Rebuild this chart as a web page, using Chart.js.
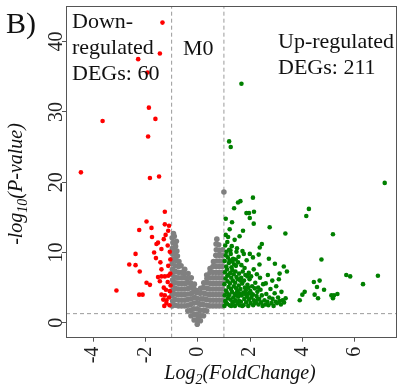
<!DOCTYPE html>
<html><head><meta charset="utf-8">
<script src="https://cdn.jsdelivr.net/npm/chart.js@4"></script>
<style>html,body{margin:0;padding:0;background:#fff;}canvas{display:block;}</style>
</head><body>
<canvas id="c" width="401" height="390"></canvas>
<script>
// ---- data ----
const xTicks = [-4, -2, 0, 2, 4, 6];
const yTicks = [0, 10, 20, 30, 40];
const xRange = [-5.04, 7.62];
const yRange = [-2.12, 45.06];
const fcCut = 1;
const pCut = 1.3;

const downPoints = [
  [-1.35,42.7],[-1.45,38.3],[-2.28,37.5],[-1.92,35.6],[-1.87,30.6],[-1.62,29.0],[-3.64,28.7],[-1.90,26.5],
  [-4.47,21.4],[-1.83,20.6],[-1.48,20.8],[-1.26,15.8],[-1.96,14.4],[-1.26,14.0],[-1.10,13.8],[-2.24,13.2],
  [-1.77,13.5],[-1.13,13.1],[-1.30,11.9],[-1.58,11.2],[-1.52,11.4],[-1.39,10.5],[-2.38,9.8],[-1.67,10.0],
  [-1.07,10.1],[-2.62,8.3],[-2.38,8.2],[-2.22,7.3],[-1.43,8.6],[-1.13,8.1],[-1.39,7.6],[-1.52,6.5],
  [-1.39,6.6],[-1.26,6.6],[-1.13,6.7],[-1.96,5.7],[-1.83,5.4],[-3.11,4.6],[-2.24,4.0],[-2.11,4.0],
  [-1.39,4.0],[-1.26,3.9],[-1.04,5.3],[-1.22,4.7],[-1.32,3.3],[-1.20,3.2],[-1.20,2.8],[-1.07,4.5],
  [-1.05,7.0],[-1.23,12.5],[-1.05,9.0],[-1.15,5.8],[-1.30,5.0],[-1.10,3.6],[-1.60,9.2],[-1.15,11.0],
  [-1.75,12.2],[-1.45,5.9],[-1.08,2.5],[-1.28,2.4]
];

const upPoints = [
  [1.02,2.4],[1.05,3.1],[1.03,3.9],[1.08,4.6],[1.02,5.5],[1.06,6.3],[1.04,7.2],[1.09,8.0],[1.03,8.8],[1.07,9.6],
  [1.05,11.0],[1.12,2.7],[1.15,3.5],[1.11,4.3],[1.18,5.1],[1.14,5.9],[1.17,6.8],[1.12,7.6],[1.19,8.5],[1.15,9.3],
  [1.13,11.5],[1.22,2.5],[1.25,3.3],[1.21,4.0],[1.27,4.8],[1.23,5.6],[1.28,6.4],[1.24,7.1],[1.29,7.9],[1.22,8.9],
  [1.26,9.8],[1.30,10.9],[1.33,2.9],[1.36,3.6],[1.31,4.4],[1.38,5.2],[1.34,6.0],[1.37,6.9],[1.32,7.5],[1.39,8.3],
  [1.35,9.1],[1.42,2.4],[1.45,3.2],[1.41,4.1],[1.47,4.9],[1.43,5.7],[1.48,6.5],[1.44,7.3],[1.46,8.1],[1.41,11.8],
  [1.52,2.8],[1.55,3.7],[1.51,4.5],[1.57,5.3],[1.53,6.2],[1.58,7.0],[1.54,8.6],[1.56,9.4],[1.60,2.5],[1.59,4.2],
  [1.50,10.6],
  [1.65,3.0],[1.68,3.9],[1.63,4.8],[1.70,5.6],[1.66,6.4],[1.72,7.3],[1.67,8.2],[1.75,2.5],[1.78,3.4],[1.74,4.3],
  [1.80,5.0],[1.77,6.0],[1.82,6.8],[1.79,7.8],[1.85,2.9],[1.88,3.7],[1.84,4.6],[1.90,5.4],[1.87,8.9],[1.93,2.4],
  [1.96,3.3],[1.92,4.1],[1.98,6.2],[1.95,7.1],[2.02,2.8],[2.05,3.6],[2.01,4.5],[2.08,5.2],[2.04,6.6],[2.12,2.5],
  [2.15,3.2],[2.11,4.0],[2.18,4.9],[2.14,7.6],[2.22,2.9],[2.25,3.8],[2.20,5.7],[2.28,4.4],[2.32,2.6],[2.35,3.4],
  [2.31,5.0],[2.38,6.4],[2.42,2.9],[2.45,3.9],[2.40,4.7],[2.48,2.4],[2.50,5.5],[2.36,8.3],[1.99,9.8],[2.26,6.9],
  [2.55,3.2],[2.58,2.6],[2.62,4.1],[2.66,3.0],[2.70,2.5],[2.74,3.6],[2.78,4.8],[2.82,2.8],[2.86,3.4],[2.90,2.4],
  [2.94,4.2],[2.98,3.0],[3.03,2.8],[3.07,3.6],[3.13,3.1],[3.18,2.6],[3.24,3.2],[3.30,2.9],[3.36,3.5],[2.60,5.6],
  [2.85,6.0],[3.00,5.2],[3.20,4.4],[2.68,6.8],[3.41,7.3],[3.13,7.0],[3.29,8.0],[2.72,9.1],[2.95,8.4],[3.10,6.2],
  [1.20,25.8],[1.26,25.0],[7.15,19.9],[2.11,17.8],[1.63,17.3],[1.54,17.1],[1.39,16.3],[1.86,15.6],[1.96,15.6],[2.15,15.8],
  [1.99,14.9],[4.25,16.2],[4.15,15.2],[1.07,14.8],[1.31,14.3],[2.14,14.1],[2.75,13.6],[1.22,13.3],[1.73,13.1],[1.07,12.5],
  [1.16,12.2],[1.60,12.3],[3.35,12.7],[5.17,12.6],[2.45,11.2],[2.37,10.7],[2.33,9.7],[1.48,10.1],[1.71,10.2],[1.76,9.8],
  [1.10,10.1],[1.20,10.4],[2.11,9.3],[4.73,9.0],[5.68,6.8],[5.83,6.6],[6.89,6.7],[6.32,5.5],[4.44,5.8],[4.66,6.0],
  [4.56,5.1],[4.83,4.7],[4.09,4.4],[4.00,4.0],[4.47,4.0],[4.60,3.5],[5.11,3.9],[5.21,3.9],[5.34,4.1],[3.90,3.2],
  [5.17,3.5],[1.67,34.0],
  [1.08,2.9],[1.18,3.9],[1.28,2.4],[1.38,3.0],[1.48,3.9],[1.58,3.1],[1.70,2.4],[1.82,4.1],[1.94,5.0],[2.06,4.1],
  [2.18,2.8],[2.30,3.3],[1.13,6.7],[1.33,8.7],[1.25,10.3],[1.45,9.0],[1.62,6.0],[1.90,6.6]
];

const nsPoints = [
  [-0.98,2.4],[-0.96,3.1],[-0.99,3.9],[-0.97,4.6],[-0.98,5.4],[-0.96,6.1],[-0.99,6.9],[-0.97,7.6],[-0.98,8.4],
  [-0.96,9.1],[-0.99,9.9],[-0.97,10.6],[-0.95,11.4],[-0.98,12.1],[-0.93,12.7],
  [-0.90,12.3],[-0.82,11.6],[-0.88,10.4],[-0.78,9.5],[-0.90,9.0],
  [-0.86,2.5],[-0.87,3.3],[-0.85,4.1],[-0.86,4.9],[-0.84,5.7],[-0.87,6.5],[-0.85,7.3],[-0.86,8.1],[-0.84,8.9],
  [-0.86,9.7],[-0.85,10.9],[-0.80,10.2],
  [-0.74,2.4],[-0.73,3.2],[-0.75,4.0],[-0.74,4.8],[-0.72,5.6],[-0.75,6.4],[-0.73,7.2],[-0.74,8.0],[-0.72,8.7],
  [-0.62,2.4],[-0.61,3.2],[-0.63,4.0],[-0.62,4.8],[-0.60,5.6],[-0.63,6.4],[-0.61,7.2],[-0.64,8.1],
  [-0.50,2.4],[-0.49,3.2],[-0.51,4.0],[-0.50,4.8],[-0.48,5.6],[-0.51,6.4],[-0.52,7.0],[-0.50,7.6],
  [-0.38,1.7],[-0.37,2.5],[-0.39,3.3],[-0.38,4.1],[-0.36,4.9],[-0.39,5.7],[-0.40,6.3],[-0.37,7.0],
  [-0.26,1.0],[-0.25,1.8],[-0.27,2.6],[-0.26,3.4],[-0.24,4.2],[-0.27,5.0],[-0.28,5.7],[-0.25,6.4],
  [-0.14,0.4],[-0.13,1.2],[-0.15,2.0],[-0.14,2.8],[-0.12,3.6],[-0.15,4.4],[-0.16,5.0],[-0.13,5.5],
  [-0.02,-0.2],[-0.01,0.5],[-0.03,1.2],[-0.02,2.0],[0.00,2.8],[-0.03,3.5],[-0.04,4.3],[-0.05,4.6],
  [0.10,0.3],[0.11,1.0],[0.09,1.8],[0.10,2.6],[0.12,3.4],[0.09,4.2],[0.11,4.9],
  [0.22,1.0],[0.23,1.8],[0.21,2.6],[0.22,3.4],[0.24,4.2],[0.21,5.0],[0.23,5.7],
  [0.34,1.7],[0.35,2.5],[0.33,3.3],[0.34,4.1],[0.36,4.9],[0.33,5.7],[0.35,6.3],[0.34,6.8],
  [0.46,2.4],[0.47,3.2],[0.45,4.0],[0.46,4.8],[0.48,5.6],[0.45,6.4],[0.47,7.2],[0.47,7.7],
  [0.58,2.4],[0.59,3.2],[0.57,4.0],[0.58,4.8],[0.60,5.6],[0.57,6.4],[0.59,7.2],[0.58,8.0],[0.60,8.7],
  [0.70,2.4],[0.71,3.2],[0.69,4.0],[0.70,4.8],[0.72,5.6],[0.69,6.4],[0.71,7.2],[0.70,8.0],[0.72,8.8],
  [0.69,9.6],[0.71,10.4],[0.70,11.2],[0.73,11.9],
  [0.82,2.4],[0.83,3.2],[0.81,4.0],[0.82,4.8],[0.84,5.6],[0.81,6.4],[0.83,7.2],[0.82,8.0],[0.84,8.8],
  [0.81,9.6],[0.83,10.3],[0.80,11.1],
  [0.94,2.4],[0.95,3.2],[0.93,4.0],[0.94,4.8],[0.96,5.6],[0.93,6.4],[0.95,7.2],[0.94,8.0],[0.96,8.8],
  [0.93,9.6],[0.95,10.4],
  [1.00,18.6]
];

const panelLabel = 'B)';
const groupLabel = 'M0';
const downLabel = ['Down-', 'regulated', 'DEGs: 60'];
const upLabel = ['Up-regulated', 'DEGs: 211'];
const xTitle = [['Log', false], ['2', true], ['(FoldChange)', false]];
const yTitle = [['-log', false], ['10', true], ['(P-value)', false]];

// ---- drawing ----
const SERIF = '"Liberation Serif", "Times New Roman", serif';
const toXY = arr => arr.map(([x, y]) => ({x, y}));
const AXIS = '#555';

function drawRich(ctx, parts, size, subSize, subShift) {
  let w = 0;
  parts.forEach(([t, sub]) => {
    ctx.font = 'italic ' + (sub ? subSize : size) + 'px ' + SERIF;
    w += ctx.measureText(t).width;
  });
  let x = -w / 2;
  parts.forEach(([t, sub]) => {
    ctx.font = 'italic ' + (sub ? subSize : size) + 'px ' + SERIF;
    ctx.fillText(t, x, sub ? subShift : 0);
    x += ctx.measureText(t).width;
  });
}

const decor = {
  id: 'decor',
  afterDraw(chart) {
    const ctx = chart.ctx, a = chart.chartArea;
    ctx.save();
    ctx.strokeStyle = AXIS;
    ctx.lineWidth = 1;
    ctx.strokeRect(Math.round(a.left) + 0.5, Math.round(a.top) + 0.5,
                   Math.round(a.right - a.left) - 1, Math.round(a.bottom - a.top) - 1);
    ctx.fillStyle = '#111';
    ctx.textAlign = 'left';
    ctx.textBaseline = 'alphabetic';
    ctx.font = '30px ' + SERIF;
    ctx.fillText(panelLabel, 6, 33);
    ctx.font = '22px ' + SERIF;
    downLabel.forEach((t, i) => ctx.fillText(t, a.left + 6, 28 + i * 26));
    ctx.fillText(groupLabel, 183, 55);
    upLabel.forEach((t, i) => ctx.fillText(t, 278, 48 + i * 26));
    // x title
    ctx.save();
    ctx.translate(240, 379);
    drawRich(ctx, xTitle, 20, 14, 5);
    ctx.restore();
    // y title
    ctx.save();
    ctx.translate(22, 184);
    ctx.rotate(-Math.PI / 2);
    drawRich(ctx, yTitle, 20, 14, 5);
    ctx.restore();
    ctx.restore();
  }
};

const tickGrid = {display: true, drawOnChartArea: false, drawTicks: true, tickLength: 4, tickColor: AXIS, color: AXIS};
const dashed = {borderColor: '#9a9a9a', borderWidth: 1, borderDash: [4, 3], pointRadius: 0, showLine: true, order: 3, fill: false};

new Chart(document.getElementById('c'), {
  type: 'scatter',
  data: {
    datasets: [
      {label: 'Down', data: toXY(downPoints), backgroundColor: '#ff0000', pointRadius: 2.3, borderWidth: 0, order: 1},
      {label: 'Up', data: toXY(upPoints), backgroundColor: '#008000', pointRadius: 2.3, borderWidth: 0, order: 1},
      {label: 'NS', data: toXY(nsPoints), backgroundColor: '#808080', pointRadius: 2.8, borderWidth: 0, order: 2},
      Object.assign({label: 'fcLow', data: [{x: -fcCut, y: yRange[0]}, {x: -fcCut, y: yRange[1]}]}, dashed),
      Object.assign({label: 'fcHigh', data: [{x: fcCut, y: yRange[0]}, {x: fcCut, y: yRange[1]}]}, dashed),
      Object.assign({label: 'p', data: [{x: xRange[0], y: pCut}, {x: xRange[1], y: pCut}]}, dashed)
    ]
  },
  options: {
    responsive: false,
    animation: false,
    devicePixelRatio: 1,
    events: [],
    layout: {padding: {top: 6, right: 3.5, left: 0, bottom: 0}},
    plugins: {legend: {display: false}, tooltip: {enabled: false}},
    scales: {
      x: {
        type: 'linear', position: 'bottom', min: xRange[0], max: xRange[1],
        grid: tickGrid, border: {display: false},
        afterBuildTicks: s => { s.ticks = xTicks.map(v => ({value: v})); },
        afterFit: s => { s.height = 52.3; s.paddingLeft = 0; s.paddingRight = 0; s.paddingTop = 0; s.paddingBottom = 0; },
        ticks: {minRotation: 90, maxRotation: 90, padding: 5, color: '#222', font: {family: SERIF, size: 20}}
      },
      y: {
        type: 'linear', position: 'left', min: yRange[0], max: yRange[1],
        grid: tickGrid, border: {display: false},
        afterBuildTicks: s => { s.ticks = yTicks.map(v => ({value: v})); },
        afterFit: s => { s.width = 66; s.paddingLeft = 0; s.paddingRight = 0; s.paddingTop = 0; s.paddingBottom = 0; },
        ticks: {minRotation: 90, maxRotation: 90, crossAlign: 'center', padding: -5, color: '#222', font: {family: SERIF, size: 20}}
      }
    }
  },
  plugins: [decor]
});
</script>
</body></html>
